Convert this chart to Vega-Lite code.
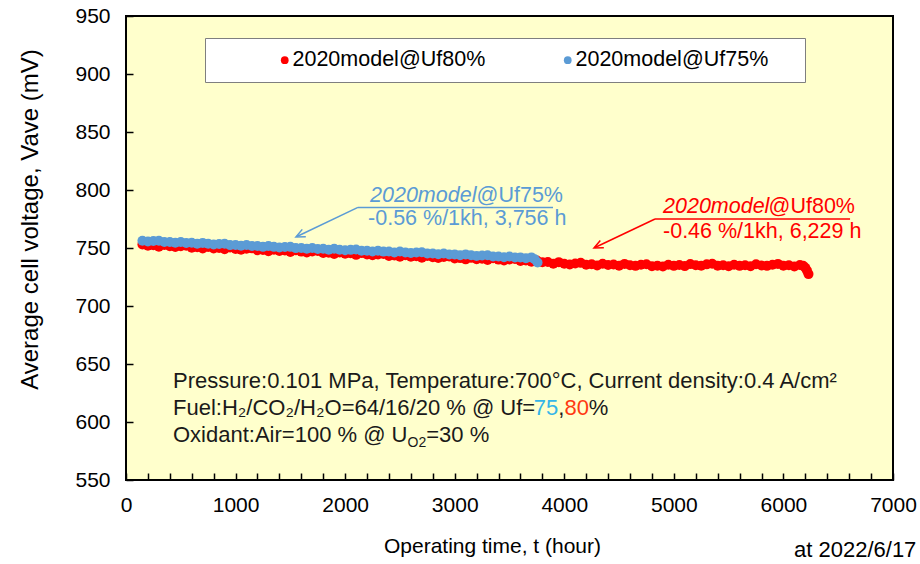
{
  "$schema": "https://vega.github.io/schema/vega-lite/v6.json",
  "width": 767,
  "height": 464,
  "autosize": "none",
  "padding": {"left": 126, "top": 16, "right": 27, "bottom": 84},
  "background": "white",
  "title": {"text": "at 2022/6/17", "orient": "bottom", "anchor": "end", "fontSize": 22, "font": "Liberation Sans", "fontWeight": "normal", "color": "black", "offset": -16},
  "config": {
    "font": "Liberation Sans",
    "view": {"fill": "#FFFFCC", "stroke": "black", "strokeWidth": 2},
    "axis": {"domain": false, "grid": false, "zindex": 2, "ticks": true, "tickColor": "#000000", "tickOpacity": 1, "tickWidth": 1.5, "tickSize": -7, "labelFontSize": 21, "labelColor": "black", "labelFont": "Liberation Sans", "titleColor": "black", "titleFontWeight": "normal", "labelOverlap": false},
    "axisX": {"labelPadding": 21, "titleFont": "Liberation Sans", "titleFontSize": 21, "titlePadding": 20, "titleX": 366},
    "axisY": {"labelPadding": 23, "titleFont": "Liberation Sans", "titleFontSize": 24, "titlePadding": 32, "titleY": 203}
  },
  "datasets": {
    "arrows": [
      {"series": "2020model@Uf75%", "t": 2117, "v": 785, "t2": 3897, "v2": 785},
      {"series": "2020model@Uf75%", "t": 2117, "v": 785, "t2": 1560, "v2": 759.9},
      {"series": "2020model@Uf80%", "t": 4828, "v": 775, "t2": 6608, "v2": 775},
      {"series": "2020model@Uf80%", "t": 4828, "v": 775, "t2": 4280, "v2": 750.4}
    ],
    "heads": [
      {"series": "2020model@Uf75%", "t": 1551, "v": 759.5},
      {"series": "2020model@Uf80%", "t": 4271, "v": 750}
    ],
    "annot": [
      {"series": "2020model@Uf75%", "kind": "it", "t": 2227, "v": 789.7, "text": "2020model"},
      {"series": "2020model@Uf75%", "kind": "up", "t": 3988, "v": 789.7, "text": "@Uf75%"},
      {"series": "2020model@Uf75%", "kind": "l2", "t": 2209, "v": 769.8, "text": "-0.56 %/1kh, 3,756 h"},
      {"series": "2020model@Uf80%", "kind": "it", "t": 4901, "v": 780.2, "text": "2020model"},
      {"series": "2020model@Uf80%", "kind": "up", "t": 6653, "v": 780.2, "text": "@Uf80%"},
      {"series": "2020model@Uf80%", "kind": "l2", "t": 4901, "v": 758.6, "text": "-0.46 %/1kh, 6,229 h"}
    ],
    "info": [
      {"kind": "black", "t": 429, "v": 629.3, "text": "Pressure:0.101 MPa, Temperature:700°C, Current density:0.4 A/cm²"},
      {"kind": "black", "t": 429, "v": 606, "text": "Fuel:H₂/CO₂/H₂O=64/16/20 % @ Uf="},
      {"kind": "black", "t": 3945, "v": 606, "text": ","},
      {"kind": "black", "t": 4224, "v": 606, "text": "%"},
      {"kind": "black", "t": 429, "v": 582.8, "text": "Oxidant:Air=100 % @ U"},
      {"kind": "black", "t": 2740, "v": 582.8, "text": "=30 %"},
      {"kind": "cyan", "t": 3722, "v": 606, "text": "75"},
      {"kind": "red", "t": 4001, "v": 606, "text": "80"},
      {"kind": "sub", "t": 2569, "v": 578.6, "text": "O2"}
    ]
  },
  "encoding": {
    "x": {"field": "t", "type": "quantitative", "title": "Operating time, t (hour)", "scale": {"domain": [0, 7000], "nice": false, "zero": false},
      "axis": {"values": [0,200,400,600,800,1000,1200,1400,1600,1800,2000,2200,2400,2600,2800,3000,3200,3400,3600,3800,4000,4200,4400,4600,4800,5000,5200,5400,5600,5800,6000,6200,6400,6600,6800,7000], "format": "d", "labelOverlap": false, "labelBound": false, "labelFlush": false, "labelExpr": "datum.value % 1000 === 0 ? datum.label : ''"}},
    "y": {"field": "v", "type": "quantitative", "title": "Average cell voltage, Vave (mV)", "scale": {"domain": [550, 950], "nice": false, "zero": false},
      "axis": {"values": [550,600,650,700,750,800,850,900,950], "format": "d", "labelOverlap": false}}
  },
  "layer": [
    {
      "data": {"values": [
        {"t":150,"v":753.1,"series":"2020model@Uf80%"},{"t":200,"v":751.9,"series":"2020model@Uf80%"},{"t":250,"v":752.3,"series":"2020model@Uf80%"},{"t":300,"v":751.1,"series":"2020model@Uf80%"},{"t":350,"v":752.6,"series":"2020model@Uf80%"},{"t":400,"v":751.5,"series":"2020model@Uf80%"},{"t":450,"v":750.8,"series":"2020model@Uf80%"},{"t":500,"v":751.6,"series":"2020model@Uf80%"},{"t":550,"v":752.0,"series":"2020model@Uf80%"},{"t":600,"v":750.3,"series":"2020model@Uf80%"},
        {"t":650,"v":750.6,"series":"2020model@Uf80%"},{"t":700,"v":749.5,"series":"2020model@Uf80%"},{"t":750,"v":750.8,"series":"2020model@Uf80%"},{"t":800,"v":749.6,"series":"2020model@Uf80%"},{"t":850,"v":750.0,"series":"2020model@Uf80%"},{"t":900,"v":748.9,"series":"2020model@Uf80%"},{"t":950,"v":750.4,"series":"2020model@Uf80%"},{"t":1000,"v":749.2,"series":"2020model@Uf80%"},{"t":1050,"v":748.5,"series":"2020model@Uf80%"},{"t":1100,"v":749.3,"series":"2020model@Uf80%"},
        {"t":1150,"v":749.7,"series":"2020model@Uf80%"},{"t":1200,"v":748.0,"series":"2020model@Uf80%"},{"t":1250,"v":748.3,"series":"2020model@Uf80%"},{"t":1300,"v":747.2,"series":"2020model@Uf80%"},{"t":1350,"v":748.5,"series":"2020model@Uf80%"},{"t":1400,"v":747.4,"series":"2020model@Uf80%"},{"t":1450,"v":747.8,"series":"2020model@Uf80%"},{"t":1500,"v":746.6,"series":"2020model@Uf80%"},{"t":1550,"v":748.1,"series":"2020model@Uf80%"},{"t":1600,"v":746.9,"series":"2020model@Uf80%"},
        {"t":1650,"v":746.2,"series":"2020model@Uf80%"},{"t":1700,"v":747.0,"series":"2020model@Uf80%"},{"t":1750,"v":747.4,"series":"2020model@Uf80%"},{"t":1800,"v":745.7,"series":"2020model@Uf80%"},{"t":1850,"v":746.0,"series":"2020model@Uf80%"},{"t":1900,"v":744.9,"series":"2020model@Uf80%"},{"t":1950,"v":746.2,"series":"2020model@Uf80%"},{"t":2000,"v":745.0,"series":"2020model@Uf80%"},{"t":2050,"v":745.4,"series":"2020model@Uf80%"},{"t":2100,"v":744.1,"series":"2020model@Uf80%"},
        {"t":2150,"v":745.6,"series":"2020model@Uf80%"},{"t":2200,"v":744.4,"series":"2020model@Uf80%"},{"t":2250,"v":743.7,"series":"2020model@Uf80%"},{"t":2300,"v":744.5,"series":"2020model@Uf80%"},{"t":2350,"v":744.9,"series":"2020model@Uf80%"},{"t":2400,"v":743.2,"series":"2020model@Uf80%"},{"t":2450,"v":743.5,"series":"2020model@Uf80%"},{"t":2500,"v":742.4,"series":"2020model@Uf80%"},{"t":2550,"v":743.7,"series":"2020model@Uf80%"},{"t":2600,"v":742.5,"series":"2020model@Uf80%"},
        {"t":2650,"v":742.9,"series":"2020model@Uf80%"},{"t":2700,"v":741.7,"series":"2020model@Uf80%"},{"t":2750,"v":743.2,"series":"2020model@Uf80%"},{"t":2800,"v":742.1,"series":"2020model@Uf80%"},{"t":2850,"v":741.4,"series":"2020model@Uf80%"},{"t":2900,"v":742.2,"series":"2020model@Uf80%"},{"t":2950,"v":742.6,"series":"2020model@Uf80%"},{"t":3000,"v":741.0,"series":"2020model@Uf80%"},{"t":3050,"v":741.3,"series":"2020model@Uf80%"},{"t":3100,"v":740.2,"series":"2020model@Uf80%"},
        {"t":3150,"v":741.5,"series":"2020model@Uf80%"},{"t":3200,"v":740.4,"series":"2020model@Uf80%"},{"t":3250,"v":740.8,"series":"2020model@Uf80%"},{"t":3300,"v":739.6,"series":"2020model@Uf80%"},{"t":3350,"v":741.1,"series":"2020model@Uf80%"},{"t":3400,"v":740.0,"series":"2020model@Uf80%"},{"t":3450,"v":739.3,"series":"2020model@Uf80%"},{"t":3500,"v":740.1,"series":"2020model@Uf80%"},{"t":3550,"v":740.5,"series":"2020model@Uf80%"},{"t":3600,"v":738.9,"series":"2020model@Uf80%"},
        {"t":3650,"v":739.2,"series":"2020model@Uf80%"},{"t":3700,"v":738.1,"series":"2020model@Uf80%"},{"t":3750,"v":739.2,"series":"2020model@Uf80%"},{"t":3800,"v":737.8,"series":"2020model@Uf80%"},{"t":3850,"v":737.9,"series":"2020model@Uf80%"},{"t":3900,"v":736.5,"series":"2020model@Uf80%"},{"t":3950,"v":737.8,"series":"2020model@Uf80%"},{"t":4000,"v":736.4,"series":"2020model@Uf80%"},{"t":4050,"v":735.8,"series":"2020model@Uf80%"},{"t":4100,"v":736.7,"series":"2020model@Uf80%"},
        {"t":4150,"v":737.2,"series":"2020model@Uf80%"},{"t":4200,"v":735.6,"series":"2020model@Uf80%"},{"t":4250,"v":736.0,"series":"2020model@Uf80%"},{"t":4300,"v":735.0,"series":"2020model@Uf80%"},{"t":4350,"v":736.4,"series":"2020model@Uf80%"},{"t":4400,"v":735.3,"series":"2020model@Uf80%"},{"t":4450,"v":735.8,"series":"2020model@Uf80%"},{"t":4500,"v":734.7,"series":"2020model@Uf80%"},{"t":4550,"v":736.3,"series":"2020model@Uf80%"},{"t":4600,"v":735.2,"series":"2020model@Uf80%"},
        {"t":4650,"v":734.6,"series":"2020model@Uf80%"},{"t":4700,"v":735.5,"series":"2020model@Uf80%"},{"t":4750,"v":736.0,"series":"2020model@Uf80%"},{"t":4800,"v":734.3,"series":"2020model@Uf80%"},{"t":4850,"v":734.8,"series":"2020model@Uf80%"},{"t":4900,"v":734.0,"series":"2020model@Uf80%"},{"t":4950,"v":735.6,"series":"2020model@Uf80%"},{"t":5000,"v":734.6,"series":"2020model@Uf80%"},{"t":5050,"v":735.3,"series":"2020model@Uf80%"},{"t":5100,"v":734.4,"series":"2020model@Uf80%"},
        {"t":5150,"v":736.1,"series":"2020model@Uf80%"},{"t":5200,"v":735.2,"series":"2020model@Uf80%"},{"t":5250,"v":734.8,"series":"2020model@Uf80%"},{"t":5300,"v":735.9,"series":"2020model@Uf80%"},{"t":5350,"v":736.4,"series":"2020model@Uf80%"},{"t":5400,"v":734.8,"series":"2020model@Uf80%"},{"t":5450,"v":735.2,"series":"2020model@Uf80%"},{"t":5500,"v":734.2,"series":"2020model@Uf80%"},{"t":5550,"v":735.6,"series":"2020model@Uf80%"},{"t":5600,"v":734.6,"series":"2020model@Uf80%"},
        {"t":5650,"v":735.2,"series":"2020model@Uf80%"},{"t":5700,"v":734.2,"series":"2020model@Uf80%"},{"t":5750,"v":736.0,"series":"2020model@Uf80%"},{"t":5800,"v":735.0,"series":"2020model@Uf80%"},{"t":5850,"v":734.6,"series":"2020model@Uf80%"},{"t":5900,"v":735.6,"series":"2020model@Uf80%"},{"t":5950,"v":736.3,"series":"2020model@Uf80%"},{"t":6000,"v":734.8,"series":"2020model@Uf80%"},{"t":6050,"v":735.2,"series":"2020model@Uf80%"},{"t":6100,"v":734.1,"series":"2020model@Uf80%"},
        {"t":6150,"v":735.4,"series":"2020model@Uf80%"},{"t":6180,"v":734.6,"series":"2020model@Uf80%"},{"t":6200,"v":733.0,"series":"2020model@Uf80%"},{"t":6215,"v":730.5,"series":"2020model@Uf80%"},{"t":6229,"v":727.5,"series":"2020model@Uf80%"},
        {"t":150,"v":756.2,"series":"2020model@Uf75%"},{"t":200,"v":755.7,"series":"2020model@Uf75%"},{"t":250,"v":756.1,"series":"2020model@Uf75%"},{"t":300,"v":756.3,"series":"2020model@Uf75%"},{"t":350,"v":755.1,"series":"2020model@Uf75%"},{"t":400,"v":755.2,"series":"2020model@Uf75%"},{"t":450,"v":754.5,"series":"2020model@Uf75%"},{"t":500,"v":755.2,"series":"2020model@Uf75%"},{"t":550,"v":754.4,"series":"2020model@Uf75%"},{"t":600,"v":754.5,"series":"2020model@Uf75%"},
        {"t":650,"v":753.6,"series":"2020model@Uf75%"},{"t":700,"v":754.4,"series":"2020model@Uf75%"},{"t":750,"v":753.6,"series":"2020model@Uf75%"},{"t":800,"v":753.1,"series":"2020model@Uf75%"},{"t":850,"v":753.5,"series":"2020model@Uf75%"},{"t":900,"v":753.6,"series":"2020model@Uf75%"},{"t":950,"v":752.5,"series":"2020model@Uf75%"},{"t":1000,"v":752.6,"series":"2020model@Uf75%"},{"t":1050,"v":751.9,"series":"2020model@Uf75%"},{"t":1100,"v":752.6,"series":"2020model@Uf75%"},
        {"t":1150,"v":751.8,"series":"2020model@Uf75%"},{"t":1200,"v":751.8,"series":"2020model@Uf75%"},{"t":1250,"v":751.0,"series":"2020model@Uf75%"},{"t":1300,"v":751.8,"series":"2020model@Uf75%"},{"t":1350,"v":751.0,"series":"2020model@Uf75%"},{"t":1400,"v":750.5,"series":"2020model@Uf75%"},{"t":1450,"v":750.9,"series":"2020model@Uf75%"},{"t":1500,"v":751.0,"series":"2020model@Uf75%"},{"t":1550,"v":749.9,"series":"2020model@Uf75%"},{"t":1600,"v":750.0,"series":"2020model@Uf75%"},
        {"t":1650,"v":749.3,"series":"2020model@Uf75%"},{"t":1700,"v":750.0,"series":"2020model@Uf75%"},{"t":1750,"v":749.2,"series":"2020model@Uf75%"},{"t":1800,"v":749.3,"series":"2020model@Uf75%"},{"t":1850,"v":748.5,"series":"2020model@Uf75%"},{"t":1900,"v":749.3,"series":"2020model@Uf75%"},{"t":1950,"v":748.5,"series":"2020model@Uf75%"},{"t":2000,"v":748.0,"series":"2020model@Uf75%"},{"t":2050,"v":748.4,"series":"2020model@Uf75%"},{"t":2100,"v":748.7,"series":"2020model@Uf75%"},
        {"t":2150,"v":747.6,"series":"2020model@Uf75%"},{"t":2200,"v":747.7,"series":"2020model@Uf75%"},{"t":2250,"v":747.0,"series":"2020model@Uf75%"},{"t":2300,"v":747.7,"series":"2020model@Uf75%"},{"t":2350,"v":746.9,"series":"2020model@Uf75%"},{"t":2400,"v":747.0,"series":"2020model@Uf75%"},{"t":2450,"v":746.2,"series":"2020model@Uf75%"},{"t":2500,"v":747.0,"series":"2020model@Uf75%"},{"t":2550,"v":746.2,"series":"2020model@Uf75%"},{"t":2600,"v":745.7,"series":"2020model@Uf75%"},
        {"t":2650,"v":746.1,"series":"2020model@Uf75%"},{"t":2700,"v":746.3,"series":"2020model@Uf75%"},{"t":2750,"v":745.2,"series":"2020model@Uf75%"},{"t":2800,"v":745.3,"series":"2020model@Uf75%"},{"t":2850,"v":744.6,"series":"2020model@Uf75%"},{"t":2900,"v":745.2,"series":"2020model@Uf75%"},{"t":2950,"v":744.4,"series":"2020model@Uf75%"},{"t":3000,"v":744.5,"series":"2020model@Uf75%"},{"t":3050,"v":743.7,"series":"2020model@Uf75%"},{"t":3100,"v":744.5,"series":"2020model@Uf75%"},
        {"t":3150,"v":743.7,"series":"2020model@Uf75%"},{"t":3200,"v":743.2,"series":"2020model@Uf75%"},{"t":3250,"v":743.5,"series":"2020model@Uf75%"},{"t":3300,"v":743.7,"series":"2020model@Uf75%"},{"t":3350,"v":742.6,"series":"2020model@Uf75%"},{"t":3400,"v":742.7,"series":"2020model@Uf75%"},{"t":3450,"v":742.0,"series":"2020model@Uf75%"},{"t":3500,"v":742.7,"series":"2020model@Uf75%"},{"t":3550,"v":741.9,"series":"2020model@Uf75%"},{"t":3600,"v":741.9,"series":"2020model@Uf75%"},
        {"t":3650,"v":741.1,"series":"2020model@Uf75%"},{"t":3700,"v":741.9,"series":"2020model@Uf75%"},{"t":3730,"v":740.3,"series":"2020model@Uf75%"},{"t":3756,"v":737.5,"series":"2020model@Uf75%"}
      ]},
      "mark": {"type": "circle", "size": 100, "opacity": 1},
      "encoding": {
        "color": {"field": "series", "type": "nominal", "scale": {"domain": ["2020model@Uf80%", "2020model@Uf75%"], "range": ["#FF0000", "#5B9BD5"]},
          "legend": {"title": " ", "titleOrient": "right", "titlePadding": 26, "titleFontSize": 8, "orient": "none", "legendX": 79, "legendY": 22, "direction": "horizontal", "columns": 2, "fillColor": "white", "strokeColor": "#7F7F7F", "padding": 11, "labelFontSize": 21.5, "labelFont": "Liberation Sans", "labelColor": "black", "labelLimit": 400, "symbolSize": 60, "symbolType": "circle", "symbolStrokeWidth": 0, "columnPadding": 13, "symbolOffset": 58, "labelOffset": -3}}
      }
    },
    {
      "data": {"name": "arrows"},
      "mark": {"type": "rule", "strokeWidth": 1.5},
      "encoding": {
        "x2": {"field": "t2"},
        "y2": {"field": "v2"},
        "stroke": {"field": "series", "type": "nominal", "scale": {"domain": ["2020model@Uf80%", "2020model@Uf75%"], "range": ["#FF0000", "#5B9BD5"]}, "legend": null}
      }
    },
    {
      "data": {"name": "heads"},
      "mark": {"type": "point", "shape": "M-1,-0.45L0,0L-1,0.45", "filled": false, "size": 324, "strokeWidth": 1.5, "angle": 154, "opacity": 1},
      "encoding": {
        "stroke": {"field": "series", "type": "nominal", "scale": {"domain": ["2020model@Uf80%", "2020model@Uf75%"], "range": ["#FF0000", "#5B9BD5"]}, "legend": null}
      }
    },
    {
      "data": {"name": "annot"},
      "transform": [{"filter": "datum.kind === 'it'"}],
      "mark": {"type": "text", "align": "left", "baseline": "alphabetic", "fontSize": 21.5, "fontStyle": "italic"},
      "encoding": {
        "text": {"field": "text"},
        "fill": {"field": "series", "type": "nominal", "scale": {"domain": ["2020model@Uf80%", "2020model@Uf75%"], "range": ["#FF0000", "#5B9BD5"]}, "legend": null}
      }
    },
    {
      "data": {"name": "annot"},
      "transform": [{"filter": "datum.kind === 'up'"}],
      "mark": {"type": "text", "align": "right", "baseline": "alphabetic", "fontSize": 21.5},
      "encoding": {
        "text": {"field": "text"},
        "fill": {"field": "series", "type": "nominal", "scale": {"domain": ["2020model@Uf80%", "2020model@Uf75%"], "range": ["#FF0000", "#5B9BD5"]}, "legend": null}
      }
    },
    {
      "data": {"name": "annot"},
      "transform": [{"filter": "datum.kind === 'l2'"}],
      "mark": {"type": "text", "align": "left", "baseline": "alphabetic", "fontSize": 21.5},
      "encoding": {
        "text": {"field": "text"},
        "fill": {"field": "series", "type": "nominal", "scale": {"domain": ["2020model@Uf80%", "2020model@Uf75%"], "range": ["#FF0000", "#5B9BD5"]}, "legend": null}
      }
    },
    {
      "data": {"name": "info"},
      "transform": [{"filter": "datum.kind === 'black'"}],
      "mark": {"type": "text", "align": "left", "baseline": "alphabetic", "fontSize": 22, "color": "#1A1A1A"},
      "encoding": {"text": {"field": "text"}}
    },
    {
      "data": {"name": "info"},
      "transform": [{"filter": "datum.kind === 'cyan'"}],
      "mark": {"type": "text", "align": "left", "baseline": "alphabetic", "fontSize": 22, "color": "#33B5E8"},
      "encoding": {"text": {"field": "text"}}
    },
    {
      "data": {"name": "info"},
      "transform": [{"filter": "datum.kind === 'red'"}],
      "mark": {"type": "text", "align": "left", "baseline": "alphabetic", "fontSize": 22, "color": "#FF3A12"},
      "encoding": {"text": {"field": "text"}}
    },
    {
      "data": {"name": "info"},
      "transform": [{"filter": "datum.kind === 'sub'"}],
      "mark": {"type": "text", "align": "left", "baseline": "alphabetic", "fontSize": 14, "color": "#1A1A1A"},
      "encoding": {"text": {"field": "text"}}
    }
  ]
}
